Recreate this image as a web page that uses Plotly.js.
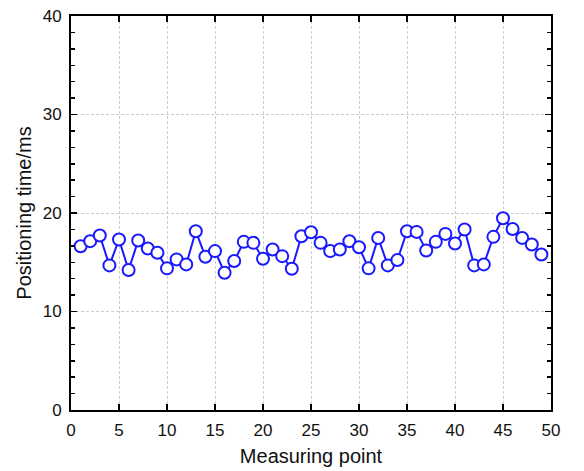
<!DOCTYPE html>
<html>
<head>
<meta charset="utf-8">
<script src="https://cdn.plot.ly/plotly-3.0.1.min.js"></script>
<style>html,body{margin:0;padding:0;background:#fff;}#chart{width:584px;height:471px;}</style>
</head>
<body>
<div id="chart"></div>
<script>
var measuringPoint = [1,2,3,4,5,6,7,8,9,10,11,12,13,14,15,16,17,18,19,20,21,22,23,24,25,26,27,28,29,30,31,32,33,34,35,36,37,38,39,40,41,42,43,44,45,46,47,48,49];
var positioningTime = [16.63,17.14,17.71,14.68,17.31,14.21,17.21,16.40,15.96,14.38,15.29,14.78,18.15,15.56,16.13,13.94,15.12,17.07,16.97,15.35,16.30,15.62,14.34,17.64,18.05,16.97,16.13,16.30,17.14,16.53,14.38,17.47,14.68,15.22,18.15,18.08,16.20,17.07,17.88,16.90,18.32,14.68,14.78,17.58,19.46,18.38,17.47,16.80,15.79];
var xTickVals = [0,5,10,15,20,25,30,35,40,45,50];
var yTickVals = [0,10,20,30,40];

var trace = {
  x: measuringPoint,
  y: positioningTime,
  mode: 'lines+markers',
  type: 'scatter',
  line: {color: 'rgb(25,25,255)', width: 2},
  marker: {symbol: 'circle', size: 12, color: '#ffffff', line: {color: 'rgb(25,25,255)', width: 2}},
  hoverinfo: 'none'
};

var fontFam = 'Liberation Sans, Arial, sans-serif';
var layout = {
  width: 584, height: 471,
  margin: {l: 71, r: 33, t: 16, b: 61},
  paper_bgcolor: '#fff', plot_bgcolor: '#fff',
  showlegend: false,
  font: {family: fontFam, color: '#111'},
  xaxis: {
    range: [0, 50], tickvals: xTickVals, ticktext: xTickVals.map(String),
    ticks: 'inside', ticklen: 6, tickwidth: 1.5, tickcolor: '#000',
    showline: true, linecolor: '#000', linewidth: 2, mirror: 'ticks',
    showgrid: true, gridcolor: '#cccccc', gridwidth: 1, griddash: '3px,2px',
    zeroline: false, tickfont: {size: 17, family: fontFam, color: '#111'},
    title: {text: 'Measuring point', font: {size: 20, family: fontFam, color: '#111'}, standoff: 10},
    ticklabelstandoff: 4
  },
  yaxis: {
    range: [0, 40], tickvals: yTickVals, ticktext: yTickVals.map(String),
    ticks: 'inside', ticklen: 6, tickwidth: 1.5, tickcolor: '#000',
    minor: {dtick: 10/6, tick0: 0, ticks: 'inside', ticklen: 4, tickwidth: 1.5, tickcolor: '#000', showgrid: false},
    showline: true, linecolor: '#000', linewidth: 2, mirror: 'ticks',
    showgrid: true, gridcolor: '#cccccc', gridwidth: 1, griddash: '3px,2px',
    zeroline: false, tickfont: {size: 17, family: fontFam, color: '#111'},
    title: {text: 'Positioning time/ms', font: {size: 20, family: fontFam, color: '#111'}, standoff: 6},
    ticklabelstandoff: 4
  }
};

Plotly.newPlot('chart', [trace], layout, {staticPlot: true, displayModeBar: false});
</script>
</body>
</html>
